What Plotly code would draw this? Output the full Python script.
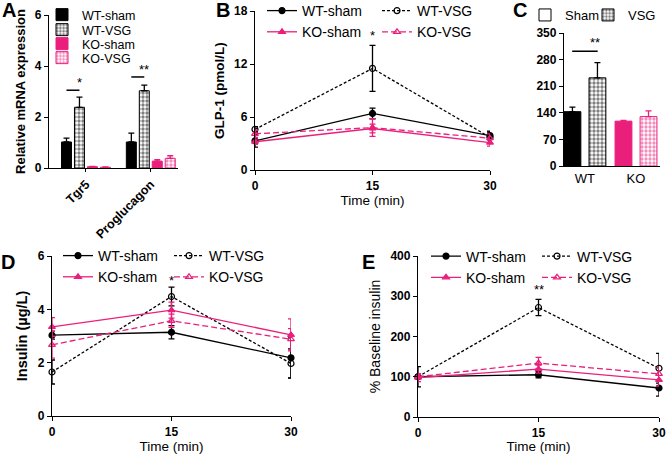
import plotly.graph_objects as go

PINK = '#EA1F7C'
FONT = 'Liberation Sans, Arial, sans-serif'
W, H = 668, 454

# ---- A: relative mRNA expression ----
genes = ['Tgr5', 'Proglucagon']
a_names = ['WT-sham', 'WT-VSG', 'KO-sham', 'KO-VSG']
a_wt_sham = [1.02, 1.02]
a_wt_sham_err = [0.15, 0.35]
a_wt_vsg = [2.38, 3.03]
a_wt_vsg_err = [0.40, 0.22]
a_ko_sham = [0.05, 0.27]
a_ko_sham_err = [0.01, 0.06]
a_ko_vsg = [0.03, 0.38]
a_ko_vsg_err = [0.01, 0.10]
a_sig_x0 = [-0.3, 0.7]
a_sig_x1 = [-0.1, 0.9]
a_sig_y = [3.05, 3.57]
a_sig_txt = ['*', '**']
a_sig_ty = [3.35, 3.85]

# ---- B/D/E: time courses ----
time = [0, 15, 30]
b_wt_sham = [3.3, 6.4, 3.9]
b_wt_sham_err = [0.7, 0.6, 0.5]
b_wt_vsg = [4.6, 11.5, 3.7]
b_wt_vsg_err = [0.3, 2.6, 0.6]
b_ko_sham = [3.2, 4.7, 3.1]
b_ko_sham_err = [0.3, 0.5, 0.4]
b_ko_vsg = [4.1, 4.8, 3.6]
b_ko_vsg_err = [0.4, 1.0, 0.5]

d_wt_sham = [3.03, 3.14, 2.18]
d_wt_sham_err = [0.15, 0.25, 0.75]
d_wt_vsg = [1.65, 4.48, 1.97]
d_wt_vsg_err = [0.45, 0.35, 0.55]
d_ko_sham = [3.34, 3.97, 3.04]
d_ko_sham_err = [0.35, 0.30, 0.60]
d_ko_vsg = [2.67, 3.57, 2.88]
d_ko_vsg_err = [0.50, 0.25, 0.40]

e_wt_sham = [100, 105, 72]
e_wt_sham_err = [3, 8, 20]
e_wt_vsg = [100, 272, 121]
e_wt_vsg_err = [25, 20, 37]
e_ko_sham = [98, 119, 92]
e_ko_sham_err = [10, 10, 15]
e_ko_vsg = [100, 134, 107]
e_ko_vsg_err = [5, 14, 15]

# ---- C ----
c_groups = ['WT', 'KO']
c_sham = [143, 118]
c_sham_err = [12, 2]
c_vsg = [232, 130]
c_vsg_err = [40, 15]


def px_x(p):
    return p / W


def px_y(p):
    return 1 - p / H


fig = go.Figure()

# A bars
a_vals = [a_wt_sham, a_wt_vsg, a_ko_sham, a_ko_vsg]
a_errs = [a_wt_sham_err, a_wt_vsg_err, a_ko_sham_err, a_ko_vsg_err]
a_cols = ['black', 'black', PINK, PINK]
a_pat = [False, True, False, True]
for i, name in enumerate(a_names):
    marker = dict(color=a_cols[i], line=dict(color=a_cols[i], width=1))
    if a_pat[i]:
        marker = dict(color='white', line=dict(color=a_cols[i], width=1),
                      pattern=dict(shape='.', fgcolor=a_cols[i], bgcolor='white', size=4, solidity=0.55))
    fig.add_trace(go.Bar(x=genes, y=a_vals[i], name=name, marker=marker,
                         error_y=dict(type='data', array=a_errs[i], arrayminus=[0] * len(genes), symmetric=False,
                                      color=a_cols[i], thickness=1.3, width=3),
                         xaxis='x', yaxis='y', legend='legend' if i == 0 else 'legend%d' % (i + 1)))

# C bars (one trace per bar to keep colours per group)
c_cols = ['black', PINK]
for g, grp in enumerate(c_groups):
    fig.add_trace(go.Bar(x=[grp], y=[c_sham[g]], width=0.33, offset=-0.41, showlegend=False,
                         marker=dict(color=c_cols[g], line=dict(color=c_cols[g], width=1)),
                         error_y=dict(type='data', array=[c_sham_err[g]], arrayminus=[0], symmetric=False,
                                      color=c_cols[g], thickness=1.3, width=3),
                         xaxis='x3', yaxis='y3'))
    fig.add_trace(go.Bar(x=[grp], y=[c_vsg[g]], width=0.33, offset=0.08, showlegend=False,
                         marker=dict(color='white', line=dict(color=c_cols[g], width=1),
                                     pattern=dict(shape='.', fgcolor=c_cols[g], bgcolor='white', size=4,
                                                  solidity=0.55)),
                         error_y=dict(type='data', array=[c_vsg_err[g]], arrayminus=[0], symmetric=False,
                                      color=c_cols[g], thickness=1.3, width=3),
                         xaxis='x3', yaxis='y3'))
# C legend entries (no bar drawn, legend key only)
fig.add_trace(go.Bar(x=['WT'], y=[None], name='Sham', xaxis='x3', yaxis='y3', legend='legend11',
                     marker=dict(color='white', line=dict(color='black', width=1))))
fig.add_trace(go.Bar(x=['WT'], y=[None], name='VSG', xaxis='x3', yaxis='y3', legend='legend12',
                     marker=dict(color='white', line=dict(color='black', width=1),
                                 pattern=dict(shape='.', fgcolor='black', bgcolor='white', size=4, solidity=0.55))))


def add_time_panel(xa, ya, vals, errs, leg_a, leg_b):
    styles = [
        ('WT-sham', 'black', 'circle', 'solid', leg_a),
        ('WT-VSG', 'black', 'circle-open', '3px,2px', leg_b),
        ('KO-sham', PINK, 'triangle-up', 'solid', leg_a),
        ('KO-VSG', PINK, 'triangle-up-open', '6px,3px', leg_b),
    ]
    for (name, col, sym, dash, leg), y, e in zip(styles, vals, errs):
        fig.add_trace(go.Scatter(x=time, y=y, name=name, mode='lines+markers', cliponaxis=False,
                                 line=dict(color=col, width=1.3, dash=dash),
                                 marker=dict(color=col, symbol=sym, size=6, line=dict(color=col, width=1.2)),
                                 error_y=dict(type='data', array=e, color=col, thickness=1.3, width=3),
                                 xaxis=xa, yaxis=ya, legend=leg))


add_time_panel('x2', 'y2', [b_wt_sham, b_wt_vsg, b_ko_sham, b_ko_vsg],
               [b_wt_sham_err, b_wt_vsg_err, b_ko_sham_err, b_ko_vsg_err], 'legend5', 'legend6')
add_time_panel('x4', 'y4', [d_wt_sham, d_wt_vsg, d_ko_sham, d_ko_vsg],
               [d_wt_sham_err, d_wt_vsg_err, d_ko_sham_err, d_ko_vsg_err], 'legend7', 'legend8')
add_time_panel('x5', 'y5', [e_wt_sham, e_wt_vsg, e_ko_sham, e_ko_vsg],
               [e_wt_sham_err, e_wt_vsg_err, e_ko_sham_err, e_ko_vsg_err], 'legend9', 'legend10')

tickfont = dict(family=FONT, size=12, color='black', weight='bold')
axis_common = dict(showline=True, linecolor='black', linewidth=1.3, ticks='outside', ticklen=4,
                   tickwidth=1.3, tickcolor='black', showgrid=False, zeroline=False, tickfont=tickfont,
                   automargin=False)


def yaxis(dom, rng, dtick, title=None, bold=True, size=14):
    d = dict(axis_common, domain=dom, range=rng, dtick=dtick)
    if title:
        d['title'] = dict(text=title, standoff=6,
                          font=dict(family=FONT, size=size, color='black', weight='bold' if bold else 'normal'))
    return d


def xtime(dom):
    return dict(axis_common, domain=dom, range=[0, 30], tickvals=[0, 15, 30],
                title=dict(text='Time (min)', standoff=2, font=dict(family=FONT, size=13.5, color='black')))


layout = dict(
    width=W, height=H, autosize=False, margin=dict(l=0, r=0, t=0, b=0, autoexpand=False),
    paper_bgcolor='white', plot_bgcolor='white', barmode='group', bargap=0.2, bargroupgap=0.23,
    font=dict(family=FONT, color='black'), showlegend=True,
    xaxis=dict(axis_common, domain=[px_x(49), px_x(178)], range=[-0.57, 1.42], anchor='y', tickangle=-45,
               tickfont=dict(family=FONT, size=12.5, color='black', weight='bold'), ticklen=3),
    yaxis=yaxis([px_y(168), px_y(15)], [0, 6], 2, 'Relative mRNA expression', size=13),
    xaxis2=xtime([px_x(255), px_x(490)]),
    yaxis2=yaxis([px_y(170), px_y(11)], [0, 18], 6, 'GLP-1 (pmol/L)', size=13.5),
    xaxis3=dict(axis_common, domain=[px_x(564), px_x(660)], range=[-0.41, 1.47], anchor='y3', ticks='',
                tickfont=dict(family=FONT, size=13, color='black')),
    yaxis3=yaxis([px_y(166), px_y(33)], [0, 350], 70),
    xaxis4=xtime([px_x(52), px_x(291)]),
    yaxis4=yaxis([px_y(416), px_y(256)], [0, 6], 2, 'Insulin (µg/L)', size=14.5),
    xaxis5=xtime([px_x(418), px_x(659)]),
    yaxis5=yaxis([px_y(417), px_y(256)], [0, 400], 100, '% Baseline insulin', bold=False, size=14),
)
for i in range(2, 6):
    layout['xaxis%d' % i]['anchor'] = 'y%d' % i
    layout['yaxis%d' % i]['anchor'] = 'x%d' % i
layout['yaxis']['anchor'] = 'x'

leg_pos = {
    'legend': (42, 15), 'legend2': (42, 30), 'legend3': (42, 44), 'legend4': (42, 58),
    'legend5': (262, 21.5), 'legend6': (377, 21.5),
    'legend7': (58, 266.5), 'legend8': (169, 266.5),
    'legend9': (426, 267), 'legend10': (537, 267),
    'legend11': (525, 15), 'legend12': (588, 15),
}
leg_size = {'legend': 12.5, 'legend2': 12.5, 'legend3': 12.5, 'legend4': 12.5, 'legend11': 13, 'legend12': 13}
for key, (lx, ly) in leg_pos.items():
    layout[key] = dict(x=px_x(lx), y=px_y(ly), xanchor='left', yanchor='middle',
                       font=dict(family=FONT, size=leg_size.get(key, 14), color='black'),
                       bgcolor='rgba(0,0,0,0)', itemclick=False, tracegroupgap=0)

fig.update_layout(**layout)

# significance marks
for x0, x1, y in zip(a_sig_x0, a_sig_x1, a_sig_y):
    fig.add_shape(type='line', x0=x0, x1=x1, y0=y, y1=y, xref='x', yref='y', line=dict(color='black', width=1.5))
for x, y, t in zip(a_sig_x1, a_sig_ty, a_sig_txt):
    fig.add_annotation(x=x, y=y, text=t, xref='x', yref='y', showarrow=False, font=dict(size=13, family=FONT))
fig.add_shape(type='line', x0=-0.25, x1=0.25, y0=302, y1=302, xref='x3', yref='y3',
              line=dict(color='black', width=1.5))
fig.add_annotation(x=0.2, y=326, text='**', xref='x3', yref='y3', showarrow=False, font=dict(size=13, family=FONT))
fig.add_annotation(x=15, y=15.2, text='*', xref='x2', yref='y2', showarrow=False, font=dict(size=13, family=FONT))
fig.add_annotation(x=15, y=5.1, text='*', xref='x4', yref='y4', showarrow=False, font=dict(size=13, family=FONT))
fig.add_annotation(x=15, y=318, text='**', xref='x5', yref='y5', showarrow=False, font=dict(size=13, family=FONT))

# panel letters
for letter, lx, ly in [('A', 8.5, 10), ('B', 223, 10), ('C', 520, 10), ('D', 8, 262), ('E', 368, 262)]:
    fig.add_annotation(x=px_x(lx), y=px_y(ly), xref='paper', yref='paper', text=letter, showarrow=False,
                       xanchor='center', yanchor='middle',
                       font=dict(family=FONT, size=20, color='black', weight='bold'))

# the page body has a default 8px margin; drop it so the figure fills the window
fig.write_html("out.html", config={'displayModeBar': False},
               post_script="document.body.style.margin='0px';")
